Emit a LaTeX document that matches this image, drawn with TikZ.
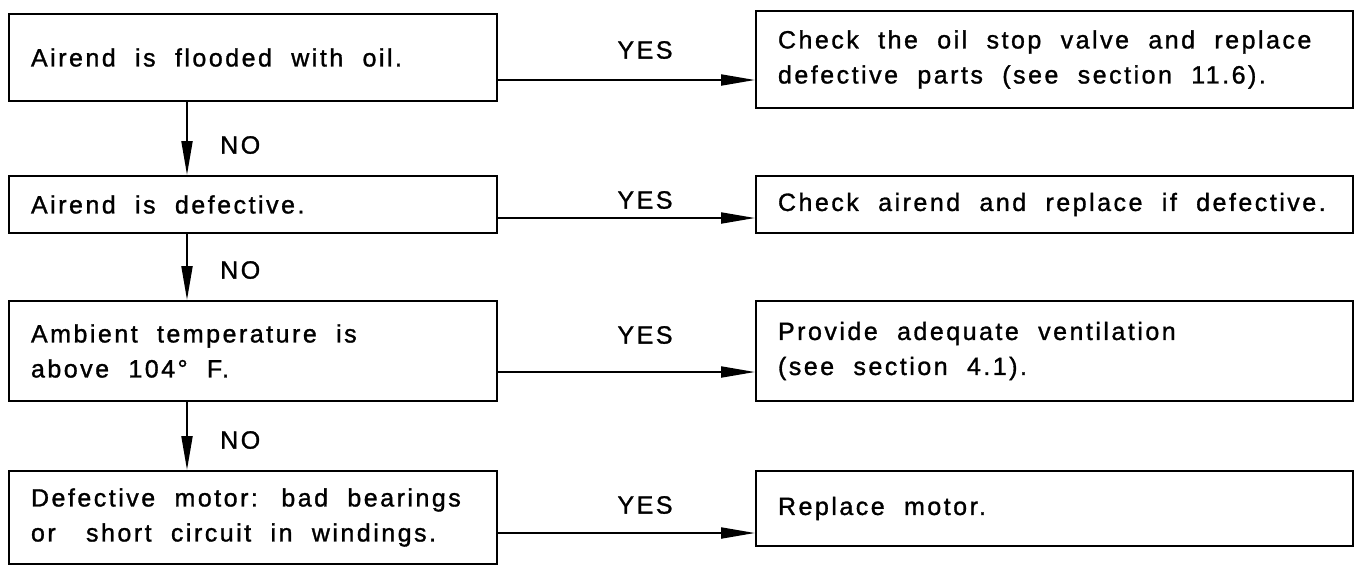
\documentclass[tikz,border=0pt]{standalone}
\usepackage{fontspec}
\setmainfont{Liberation Sans}[LetterSpace=10,FakeBold=1.2]
\usetikzlibrary{arrows.meta}
\newcommand{\boxfont}{\fontsize{25}{35}\selectfont}
\newcommand{\W}{\hspace{11pt}}
\begin{document}
\begin{tikzpicture}[x=1pt,y=-1pt,
  box/.style={draw,line width=2pt,anchor=north west,inner xsep=22pt,inner ysep=0pt,
     align=left,font=\boxfont},
  lbl/.style={font=\boxfont,inner sep=0pt},
  conn/.style={line width=2pt,-{Triangle[length=34pt,width=11pt]}}]
\useasboundingbox (0,0) rectangle (1363,568);
% left column
\node[box,minimum width=488pt,minimum height=87pt,text width=444pt] (l1) at (8,13) {Airend \W is \W flooded \W with \W oil.};
\node[box,minimum width=488pt,minimum height=57pt,text width=444pt] (l2) at (8,175) {Airend \W is \W defective.};
\node[box,minimum width=488pt,minimum height=100pt,text width=444pt] (l3) at (8,300) {Ambient \W temperature \W is\\above \W 104° \W F.};
\node[box,minimum width=488pt,minimum height=93pt,text width=444pt] (l4) at (8,470) {Defective \W motor: \W bad \W bearings\\or \W\W short \W circuit \W in \W windings.};
% right column
\node[box,minimum width=597pt,minimum height=97pt,text width=553pt] (r1) at (755,10) {Check \W the \W oil \W stop \W valve \W and \W replace\\defective \W parts \W (see \W section \W 11.6).};
\node[box,minimum width=597pt,minimum height=57pt,text width=553pt] (r2) at (755,175) {Check \W airend \W and \W replace \W if \W defective.};
\node[box,minimum width=597pt,minimum height=100pt,text width=553pt] (r3) at (755,300) {Provide \W adequate \W ventilation\\(see \W section \W 4.1).};
\node[box,minimum width=597pt,minimum height=75pt,text width=553pt] (r4) at (755,470) {Replace \W motor.};
% YES arrows
\draw[conn] (l1.east |- 0,80) -- (r1.west |- 0,80);
\draw[conn] (l2.east |- 0,218) -- (r2.west |- 0,218);
\draw[conn] (l3.east |- 0,372) -- (r3.west |- 0,372);
\draw[conn] (l4.east |- 0,533) -- (r4.west |- 0,533);
\node[lbl] (y1) at (645,50) {YES};
\node[lbl] (y2) at (645,200) {YES};
\node[lbl] (y3) at (645,335) {YES};
\node[lbl] (y4) at (645,505) {YES};
% NO arrows
\draw[conn] (l1.south -| 187,0) -- (l2.north -| 187,0);
\draw[conn] (l2.south -| 187,0) -- (l3.north -| 187,0);
\draw[conn] (l3.south -| 187,0) -- (l4.north -| 187,0);
\node[lbl,anchor=west] (n1) at (220,145) {NO};
\node[lbl,anchor=west] (n2) at (220,270) {NO};
\node[lbl,anchor=west] (n3) at (220,440) {NO};
\end{tikzpicture}
\end{document}
